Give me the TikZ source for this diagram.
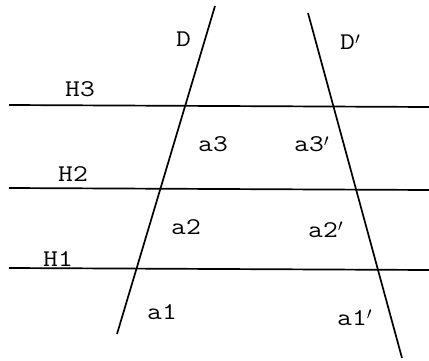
\documentclass[tikz,border=0pt]{standalone}
\usepackage{fontspec}
\newfontfamily\courfont[FakeStretch=1.2]{Latin Modern Mono}
\newcommand\prm{\raisebox{0.22em}{$\scriptstyle\prime$}}
\begin{document}
\begin{tikzpicture}[x=1pt,y=-1pt,
  ln/.style={line width=1.7pt,black},
  lbl/.style={inner sep=0pt,anchor=base west,font=\courfont\fontsize{24}{26}\selectfont}]
\useasboundingbox (0,0) rectangle (429,361);
\coordinate (Dt) at (215,6);
\coordinate (Db) at (117,334);
\coordinate (Ept) at (308,13);
\coordinate (Epb) at (402,358);
\coordinate (H3l) at (9,105);
\coordinate (H3r) at (429,107);
\coordinate (H2l) at (9,188);
\coordinate (H2r) at (429,190);
\coordinate (H1l) at (9,268);
\coordinate (H1r) at (429,270);
\draw[ln] (Dt) -- (Db);
\draw[ln] (Ept) -- (Epb);
\draw[ln] (H3l) -- (H3r);
\draw[ln] (H2l) -- (H2r);
\draw[ln] (H1l) -- (H1r);
\node[lbl] (lD) at (176,47) {D};
\node[lbl] (lDp) at (340,50) {D\prm};
\node[lbl] (lH3) at (65,97) {H3};
\node[lbl] (lH2) at (58,181) {H2};
\node[lbl] (lH1) at (43,266) {H1};
\node[lbl] (la3) at (198,152) {a3};
\node[lbl] (la3p) at (294,152) {a3\prm};
\node[lbl] (la2) at (171,234) {a2};
\node[lbl] (la2p) at (308,237) {a2\prm};
\node[lbl] (la1) at (147,319) {a1};
\node[lbl] (la1p) at (337,325) {a1\prm};
\end{tikzpicture}
\end{document}
